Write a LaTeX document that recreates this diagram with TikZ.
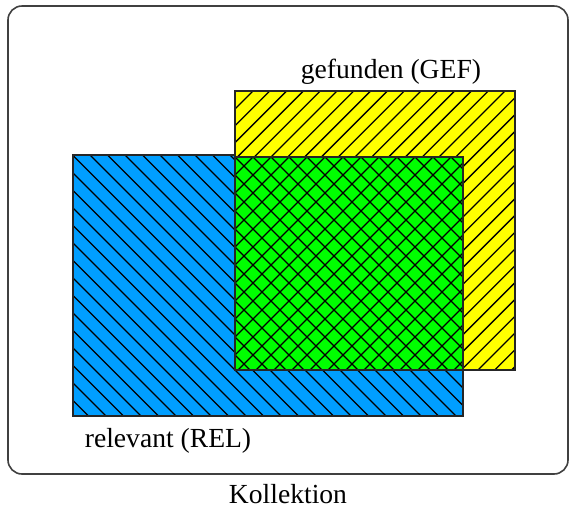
\documentclass[tikz,border=0pt]{standalone}
\usepackage{fontspec}
\setmainfont{Liberation Serif}
\definecolor{relblue}{RGB}{0,158,255}
\definecolor{gefyellow}{RGB}{255,255,0}
\definecolor{bothgreen}{RGB}{0,255,0}
\tikzset{
  setbox/.style={draw=black!85, line width=0.6pt},
  hatchline/.style={draw=black, line width=0.65pt},
  lab/.style={font=\fontsize{13.8pt}{16pt}\selectfont, inner sep=0pt}
}
\begin{document}
\begin{tikzpicture}[x=0.5pt,y=-0.5pt]
\useasboundingbox (0,0) rectangle (570,510);
% Kollektion frame
\draw[draw=black!75, line width=0.8pt, rounded corners=7pt] (8,6) rectangle (568,474);
% relevant
\fill[relblue] (73,155) rectangle (463,416);
\begin{scope}
  \clip (73,155) rectangle (463,416);
  \foreach \k in {-4,...,36} {
    \draw[hatchline] ({-275+17.5*\k-20},{-20+0}) -- ({-275+17.5*\k+480},{480});
  }
\end{scope}
\draw[setbox] (73,155) rectangle (463,416);
% gefunden
\fill[gefyellow] (235,91) rectangle (515,370);
\begin{scope}
  \clip (235,91) rectangle (515,370);
  \foreach \k in {-2,...,34} {
    \draw[hatchline] ({344+16.8*\k-40},40) -- ({344+16.8*\k-420},420);
  }
\end{scope}
\draw[setbox] (235,91) rectangle (515,370);
% intersection
\fill[bothgreen] (235,157) rectangle (463,370);
\begin{scope}
  \clip (235,157) rectangle (463,370);
  \foreach \k in {-2,...,30} {
    \draw[hatchline] ({392+18*\k-140},140) -- ({392+18*\k-390},390);
  }
  \foreach \k in {-16,...,16} {
    \draw[hatchline] ({78+18*\k+140},140) -- ({78+18*\k+390},390);
  }
\end{scope}
\draw[setbox] (235,157) rectangle (463,370);
% labels
\node[lab] (gef) at (391,72) {gefunden (GEF)};
\node[lab] (rel) at (168,441) {relevant (REL)};
\node[lab] (kol) at (288,494) {Kollektion};
\end{tikzpicture}
\end{document}
